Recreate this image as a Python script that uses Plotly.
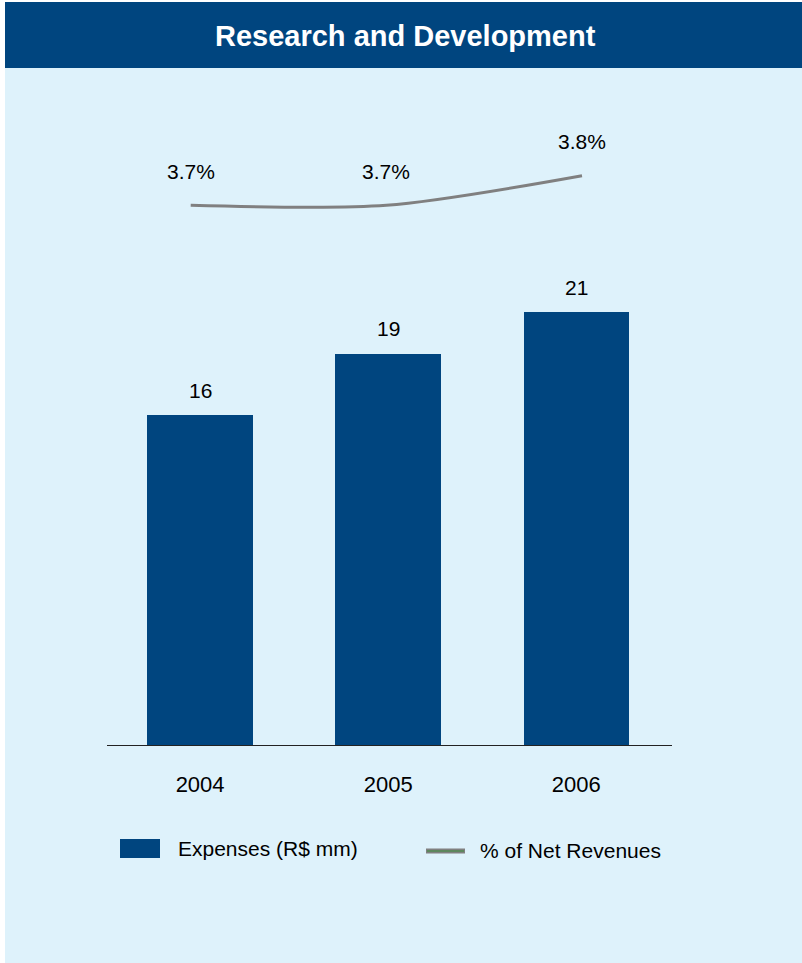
import plotly.graph_objects as go

# Data
years = ["2004", "2005", "2006"]
expenses = [16, 19, 21]            # R$ mm
pct_net_revenues = [3.7, 3.7, 3.8]  # % of net revenues

W, H = 802, 963
DARK_BLUE = "#00457F"
LIGHT_BG = "#DEF2FB"
LINE_GRAY = "#808080"
FONT = "Liberation Sans, Arial, sans-serif"


def fx(px):
    return px / W


def fy(py):
    return 1 - py / H


idx = list(range(len(years)))

# Plot-area geometry (pixels)
plot_left, plot_right = 107, 672
plot_top, plot_bottom = 100, 745
bar_center0, bar_step = 200.1, 188.1
bar_px_per_unit = 20.6
line_x0, line_step = 190.7, 195.65
line_ref_px, line_ref_val, line_px_per_unit = 205.3, 3.7, 296.0

x_range = [(plot_left - bar_center0) / bar_step, (plot_right - bar_center0) / bar_step]
x2_range = [(plot_left - line_x0) / line_step, (plot_right - line_x0) / line_step]
y_range = [0, (plot_bottom - plot_top) / bar_px_per_unit]
y2_range = [line_ref_val - (plot_bottom - line_ref_px) / line_px_per_unit,
            line_ref_val + (line_ref_px - plot_top) / line_px_per_unit]

fig = go.Figure()

fig.add_trace(go.Bar(
    x=idx, y=expenses, width=105.5 / bar_step,
    marker=dict(color=DARK_BLUE, line=dict(width=0)),
    name="Expenses (R$ mm)", showlegend=False, hoverinfo="skip",
))

fig.add_trace(go.Scatter(
    x=idx, y=pct_net_revenues, xaxis="x2", yaxis="y2",
    mode="lines", line=dict(color=LINE_GRAY, width=3, shape="spline", smoothing=0.8),
    name="% of Net Revenues", showlegend=False, hoverinfo="skip",
))

annotations = []
for i, v in zip(idx, expenses):
    annotations.append(dict(
        x=i, y=v, xref="x", yref="y", text=str(v), showarrow=False,
        yanchor="middle", yshift=25, font=dict(family=FONT, size=21, color="#000000"),
    ))
for i, v in zip(idx, pct_net_revenues):
    annotations.append(dict(
        x=i, y=v, xref="x2", yref="y2", text=f"{v:.1f}%", showarrow=False,
        yanchor="middle", yshift=34, font=dict(family=FONT, size=21, color="#000000"),
    ))

# Title
annotations.append(dict(
    x=fx(405), y=fy(36), xref="paper", yref="paper", text="<b>Research and Development</b>",
    showarrow=False, xanchor="center", yanchor="middle",
    font=dict(family=FONT, size=29, color="#FFFFFF"),
))

# Legend texts
annotations.append(dict(
    x=fx(176), y=fy(848), xref="paper", yref="paper", text="Expenses (R$ mm)",
    showarrow=False, xanchor="left", yanchor="middle",
    font=dict(family=FONT, size=21, color="#000000"),
))
annotations.append(dict(
    x=fx(478), y=fy(850), xref="paper", yref="paper", text="% of Net Revenues",
    showarrow=False, xanchor="left", yanchor="middle",
    font=dict(family=FONT, size=21, color="#000000"),
))

shapes = [
    # panel background and title band
    dict(type="rect", xref="paper", yref="paper", x0=fx(5), x1=fx(W), y0=fy(H), y1=fy(68),
         fillcolor=LIGHT_BG, line=dict(width=0), layer="below"),
    dict(type="rect", xref="paper", yref="paper", x0=fx(5), x1=fx(W), y0=fy(68), y1=fy(2),
         fillcolor=DARK_BLUE, line=dict(width=0), layer="below"),
    # legend swatches
    dict(type="rect", xref="paper", yref="paper", x0=fx(120), x1=fx(160), y0=fy(858), y1=fy(839),
         fillcolor=DARK_BLUE, line=dict(width=0)),
    dict(type="line", xref="paper", yref="paper", x0=fx(426), x1=fx(465), y0=fy(851), y1=fy(851),
         line=dict(color=LINE_GRAY, width=5)),
    dict(type="line", xref="paper", yref="paper", x0=fx(427), x1=fx(464), y0=fy(851), y1=fy(851),
         line=dict(color="#3A8F3A", width=1)),
]

fig.update_layout(
    width=W, height=H,
    margin=dict(l=0, r=0, t=0, b=0),
    paper_bgcolor="#FFFFFF",
    plot_bgcolor="rgba(0,0,0,0)",
    showlegend=False,
    bargap=0,
    xaxis=dict(
        domain=[fx(plot_left), fx(plot_right)], range=x_range,
        tickvals=idx, ticktext=years, ticks="", showgrid=False, zeroline=False,
        showline=True, linecolor="#222222", linewidth=1,
        tickfont=dict(family=FONT, size=22, color="#000000"),
        ticklabelstandoff=20, fixedrange=True,
    ),
    yaxis=dict(
        domain=[fy(plot_bottom), fy(plot_top)], range=y_range,
        visible=False, showgrid=False, zeroline=False, fixedrange=True,
    ),
    xaxis2=dict(
        overlaying="x", anchor="y2", range=x2_range, visible=False,
        showgrid=False, zeroline=False, fixedrange=True,
    ),
    yaxis2=dict(
        overlaying="y", anchor="x2", range=y2_range, visible=False,
        showgrid=False, zeroline=False, fixedrange=True,
    ),
    annotations=annotations,
    shapes=shapes,
)

fig.write_html("out.html")
